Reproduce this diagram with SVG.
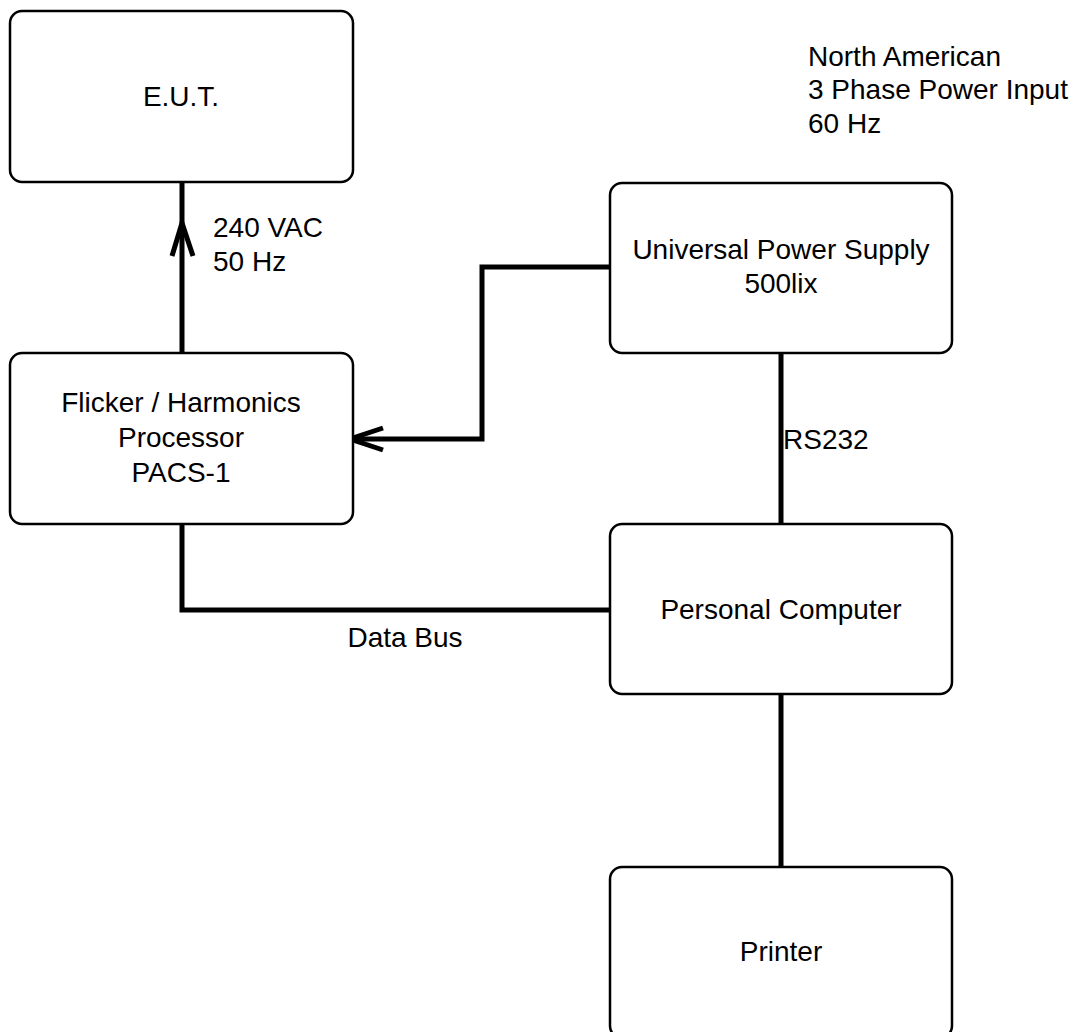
<svg xmlns="http://www.w3.org/2000/svg" width="1081" height="1032" viewBox="0 0 1081 1032">
<style>
.box{fill:#fff;stroke:#000;stroke-width:2.5}
.t{font-family:"Liberation Sans",Arial,sans-serif;font-size:28px;fill:#000}
.c{text-anchor:middle}
.w{fill:none;stroke:#000;stroke-width:5}
.ah{fill:none;stroke:#000;stroke-width:5}
</style>
<rect width="1081" height="1032" fill="#fff"/>
<g id="connectors">
<path class="w" d="M182 353 V182"/>
<path class="ah" d="M172 256 L182 223 L193 256"/>
<path class="w" d="M610 267 H482 V439 H352"/>
<path class="ah" d="M383 428 L350 439 L383 450"/>
<path class="w" d="M781 353 V524"/>
<path class="w" d="M182 524 V610 H610"/>
<path class="w" d="M781 694 V867"/>
</g>
<g id="eut"><rect class="box" x="10" y="11" width="343" height="171" rx="12"/><text class="t c" x="181" y="106">E.U.T.</text></g>
<g id="flicker"><rect class="box" x="10" y="353" width="343" height="171" rx="12"/><text class="t c" x="181" y="412">Flicker / Harmonics</text><text class="t c" x="181" y="447">Processor</text><text class="t c" x="181" y="482">PACS-1</text></g>
<g id="ups"><rect class="box" x="610" y="183" width="342" height="170" rx="12"/><text class="t c" x="781" y="259">Universal Power Supply</text><text class="t c" x="781" y="293">500lix</text></g>
<g id="pc"><rect class="box" x="610" y="524" width="342" height="170" rx="12"/><text class="t c" x="781" y="619">Personal Computer</text></g>
<g id="printer"><rect class="box" x="610" y="867" width="342" height="171" rx="12"/><text class="t c" x="781" y="961">Printer</text></g>
<g id="labels">
<text class="t" x="213" y="237">240 VAC</text>
<text class="t" x="213" y="271">50 Hz</text>
<text class="t" x="783" y="449">RS232</text>
<text class="t c" x="405" y="647">Data Bus</text>
<text class="t" x="808" y="66">North American</text>
<text class="t" x="808" y="99">3 Phase Power Input</text>
<text class="t" x="808" y="133">60 Hz</text>
</g>
</svg>
